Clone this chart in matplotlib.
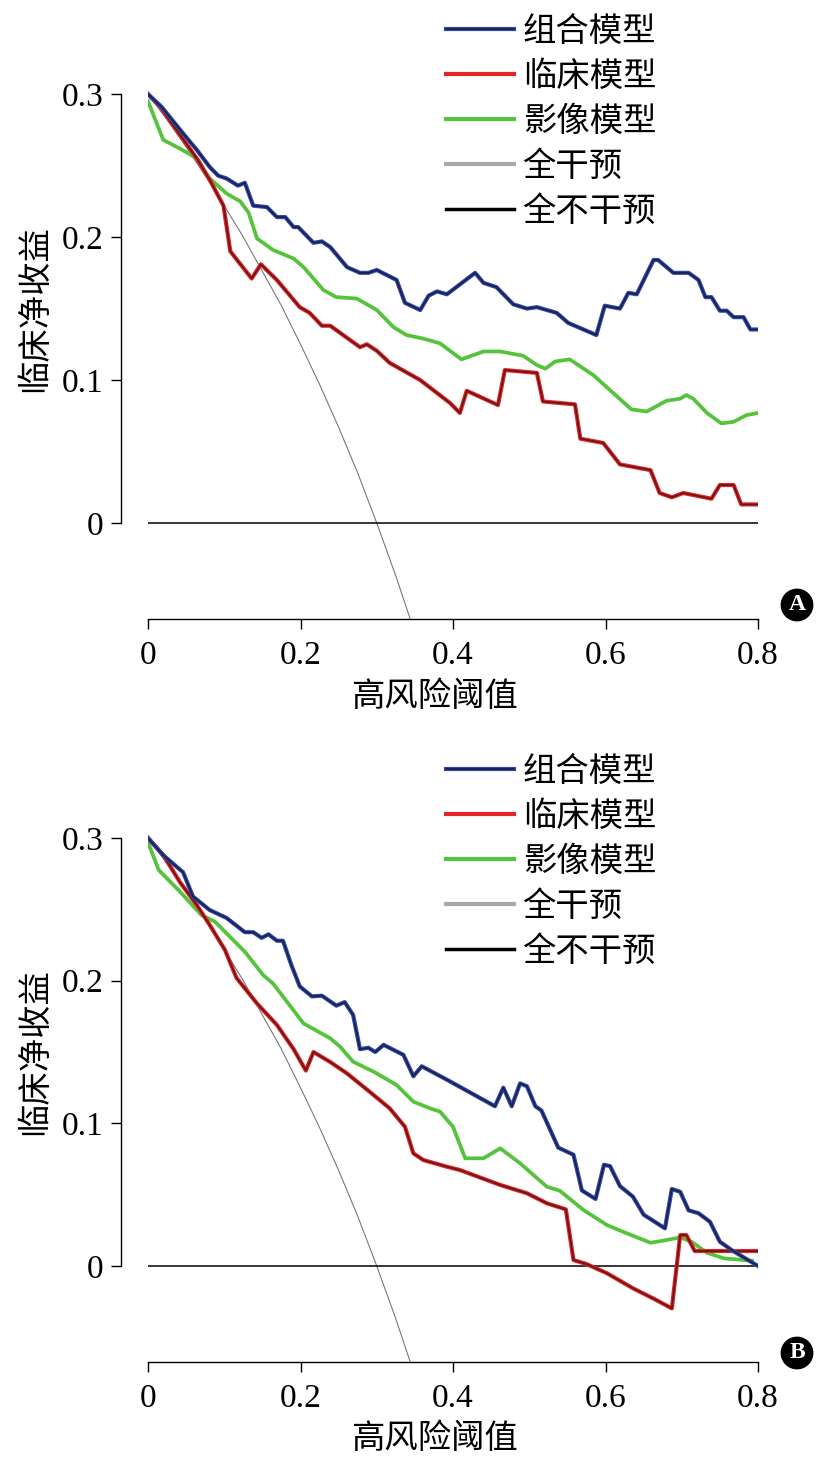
import matplotlib
matplotlib.use('Agg')
import matplotlib.pyplot as plt
import matplotlib.patheffects as pe
from matplotlib.lines import Line2D

plt.rcParams['font.family'] = ['Liberation Serif', 'Noto Sans CJK SC']

labels = ['组合模型', '临床模型', '影像模型', '全干预', '全不干预']
x_ticks = [0, 0.2, 0.4, 0.6, 0.8]
x_ticklabels = ['0', '0.2', '0.4', '0.6', '0.8']
y_ticks = [0, 0.1, 0.2, 0.3]
y_ticklabels = ['0', '0.1', '0.2', '0.3']

# treat-all curve, same in both panels
x_all = [0, 0.025, 0.05, 0.075, 0.10, 0.125, 0.15, 0.175, 0.20, 0.225, 0.25, 0.275, 0.30, 0.325, 0.35]
y_all = [0.300, 0.282, 0.263, 0.243, 0.222, 0.200, 0.176, 0.152, 0.125, 0.097, 0.067, 0.035, 0.0, -0.037, -0.077]

# panel A
xa_comb = [0, 0.018, 0.046, 0.064, 0.081, 0.092, 0.103, 0.118, 0.127, 0.138, 0.156, 0.169, 0.180, 0.191,
           0.197, 0.217, 0.228, 0.239, 0.261, 0.278, 0.289, 0.300, 0.326, 0.337, 0.357, 0.368, 0.379, 0.392,
           0.429, 0.440, 0.457, 0.479, 0.497, 0.510, 0.536, 0.551, 0.588, 0.599, 0.619, 0.630, 0.641, 0.663,
           0.669, 0.689, 0.709, 0.722, 0.731, 0.739, 0.750, 0.759, 0.768, 0.781, 0.790, 0.800]
ya_comb = [0.300, 0.291, 0.2725, 0.261, 0.249, 0.243, 0.241, 0.236, 0.238, 0.222, 0.221, 0.214, 0.214, 0.207,
           0.207, 0.196, 0.197, 0.193, 0.179, 0.175, 0.175, 0.177, 0.170, 0.154, 0.149, 0.159, 0.162, 0.160,
           0.175, 0.168, 0.165, 0.153, 0.150, 0.151, 0.147, 0.140, 0.1315, 0.152, 0.150, 0.161, 0.160, 0.184,
           0.184, 0.175, 0.175, 0.170, 0.158, 0.158, 0.1485, 0.1485, 0.144, 0.144, 0.1354, 0.1354]
xa_clin = [0, 0.016, 0.064, 0.081, 0.099, 0.108, 0.136, 0.148, 0.169, 0.199, 0.212, 0.228, 0.239, 0.278,
           0.287, 0.300, 0.317, 0.357, 0.396, 0.409, 0.418, 0.459, 0.468, 0.510, 0.518, 0.560, 0.567, 0.597,
           0.619, 0.659, 0.671, 0.687, 0.702, 0.739, 0.750, 0.768, 0.778, 0.800]
ya_clin = [0.300, 0.291, 0.255, 0.240, 0.222, 0.190, 0.171, 0.181, 0.170, 0.151, 0.147, 0.138, 0.138, 0.123,
           0.125, 0.1205, 0.112, 0.100, 0.084, 0.077, 0.0925, 0.0825, 0.107, 0.105, 0.085, 0.083, 0.059, 0.056,
           0.041, 0.037, 0.021, 0.018, 0.021, 0.017, 0.0266, 0.0266, 0.013, 0.013]
xa_img = [0.0, 0.020, 0.038, 0.055, 0.066, 0.079, 0.103, 0.121, 0.132, 0.143, 0.164, 0.191, 0.204, 0.230,
          0.247, 0.274, 0.300, 0.322, 0.339, 0.361, 0.383, 0.411, 0.427, 0.440, 0.462, 0.492, 0.510, 0.521,
          0.534, 0.553, 0.584, 0.610, 0.634, 0.654, 0.680, 0.698, 0.706, 0.715, 0.733, 0.752, 0.768, 0.785, 0.800]
ya_img = [0.295, 0.268, 0.263, 0.258, 0.254, 0.242, 0.2305, 0.225, 0.217, 0.199, 0.191, 0.185, 0.179, 0.163,
          0.158, 0.157, 0.149, 0.137, 0.1315, 0.129, 0.1257, 0.1145, 0.1175, 0.120, 0.120, 0.117, 0.1105, 0.108,
          0.113, 0.1145, 0.1035, 0.091, 0.0795, 0.078, 0.0855, 0.087, 0.0895, 0.087, 0.077, 0.0697, 0.0708, 0.0755, 0.077]

# panel B
xb_comb = [0, 0.020, 0.046, 0.059, 0.081, 0.103, 0.127, 0.138, 0.149, 0.158, 0.169, 0.177, 0.188, 0.199,
           0.215, 0.228, 0.247, 0.258, 0.269, 0.278, 0.289, 0.298, 0.309, 0.335, 0.348, 0.359, 0.394, 0.455,
           0.466, 0.477, 0.488, 0.497, 0.508, 0.516, 0.538, 0.558, 0.569, 0.587, 0.598, 0.606, 0.619, 0.636,
           0.650, 0.678, 0.687, 0.698, 0.709, 0.722, 0.737, 0.750, 0.766, 0.800]
yb_comb = [0.300, 0.288, 0.276, 0.259, 0.2495, 0.244, 0.234, 0.234, 0.230, 0.2325, 0.228, 0.228, 0.211, 0.196,
           0.189, 0.1895, 0.1825, 0.185, 0.176, 0.152, 0.153, 0.150, 0.155, 0.148, 0.133, 0.140, 0.130, 0.112,
           0.125, 0.112, 0.128, 0.126, 0.112, 0.109, 0.083, 0.078, 0.053, 0.047, 0.071, 0.070, 0.056, 0.0486,
           0.036, 0.0264, 0.054, 0.052, 0.039, 0.037, 0.031, 0.017, 0.011, 0.0]
xb_clin = [0, 0.020, 0.042, 0.064, 0.081, 0.101, 0.116, 0.143, 0.169, 0.191, 0.207, 0.217, 0.239, 0.261,
           0.291, 0.317, 0.337, 0.348, 0.361, 0.392, 0.409, 0.462, 0.497, 0.523, 0.548, 0.558, 0.575, 0.602,
           0.636, 0.665, 0.687, 0.698, 0.706, 0.717, 0.800]
yb_clin = [0.300, 0.288, 0.269, 0.253, 0.239, 0.2215, 0.202, 0.184, 0.169, 0.152, 0.137, 0.150, 0.143, 0.135,
           0.122, 0.1105, 0.0976, 0.079, 0.0743, 0.0696, 0.0673, 0.0568, 0.051, 0.044, 0.0397, 0.0042, 0.0014,
           -0.0051, -0.0156, -0.0234, -0.0297, 0.0217, 0.0217, 0.0105, 0.0105]
xb_img = [0, 0.014, 0.042, 0.070, 0.088, 0.127, 0.151, 0.164, 0.204, 0.239, 0.252, 0.269, 0.296, 0.326,
          0.348, 0.370, 0.383, 0.400, 0.416, 0.440, 0.462, 0.488, 0.523, 0.540, 0.571, 0.602, 0.623, 0.659,
          0.680, 0.698, 0.713, 0.733, 0.755, 0.792]
yb_img = [0.297, 0.2776, 0.2624, 0.246, 0.2413, 0.2203, 0.204, 0.198, 0.170, 0.1596, 0.1537, 0.1432, 0.1362,
          0.1269, 0.1152, 0.1105, 0.1082, 0.0976, 0.0755, 0.0755, 0.0825, 0.072, 0.0556, 0.0528, 0.0393, 0.0287,
          0.024, 0.0163, 0.0182, 0.0201, 0.017, 0.0093, 0.0054, 0.0037]

BLUE = '#3049b0'
BLUE_DARK = '#1c2147'
RED = '#e3262a'
RED_DARK = '#6a1616'
GREEN = '#55c43c'

W, H = 823, 1459
fig = plt.figure(figsize=(W / 100, H / 100), dpi=100)


def draw_panel(rect, comb, clin, img, letter, legend_top):
    ax = fig.add_axes(rect)
    ax.set_xlim(0, 0.8)
    ax.set_ylim(-0.067, 0.305)

    ax.plot(x_all, y_all, color='#707070', lw=0.75, zorder=2)
    ax.plot([0, 0.8], [0, 0], color='black', lw=1.1, zorder=2)
    ax.plot(img[0], img[1], color=GREEN, lw=2.7, solid_joinstyle='round', zorder=3)
    ax.plot(clin[0], clin[1], color=RED_DARK, lw=1.3, zorder=4,
            path_effects=[pe.Stroke(linewidth=3.0, foreground=RED), pe.Normal()])
    ax.plot(comb[0], comb[1], color=BLUE_DARK, lw=1.3, zorder=5,
            path_effects=[pe.Stroke(linewidth=3.0, foreground=BLUE), pe.Normal()])

    for s in ['top', 'right']:
        ax.spines[s].set_visible(False)
    ax.spines['left'].set_position(('outward', 19.5))
    ax.spines['left'].set_bounds(0, 0.3)
    ax.spines['bottom'].set_bounds(0, 0.8)
    ax.spines['left'].set_linewidth(1.0)
    ax.spines['bottom'].set_linewidth(1.0)

    ax.set_xticks(x_ticks)
    ax.set_xticklabels(x_ticklabels)
    ax.set_yticks(y_ticks)
    ax.set_yticklabels(y_ticklabels)
    ax.tick_params(axis='both', labelsize=24, length=7.5, width=1.0, direction='out')
    ax.tick_params(axis='x', pad=8)
    ax.tick_params(axis='y', pad=5)

    # labels placed as in the reference (y label centred on the 0-0.3 spine)
    x0, y0, w, h = rect
    ax.set_xlabel('高风险阈值', fontsize=24, va='center')
    ax.xaxis.set_label_coords((434 / W - x0) / w, -78 / (h * H))
    ax.set_ylabel('临床净收益', fontsize=24, va='center')
    ax.yaxis.set_label_coords((35 / W - x0) / w, (0.15 + 0.067) / 0.372)

    handles = [
        Line2D([], [], color=BLUE_DARK, lw=1.3,
               path_effects=[pe.Stroke(linewidth=3, foreground=BLUE), pe.Normal()]),
        Line2D([], [], color=RED, lw=3),
        Line2D([], [], color=GREEN, lw=3),
        Line2D([], [], color='#a8a8a8', lw=3),
        Line2D([], [], color='black', lw=2.5),
    ]
    fig.legend(handles, labels, loc='upper left', bbox_to_anchor=(446 / W, 1 - legend_top / H),
               frameon=False, fontsize=24, handlelength=2.05, handletextpad=0.25,
               labelspacing=0.40, borderpad=0, borderaxespad=0)

    fig.text(797 / W, 1 - letter[1] / H, letter[0], color='white', fontsize=17, fontweight='bold',
             ha='center', va='center',
             bbox=dict(boxstyle='circle,pad=0.22', fc='black', ec='black'))
    return ax


draw_panel([148 / W, 1 - 618.8 / H, 610 / W, 531.8 / H], (xa_comb, ya_comb), (xa_clin, ya_clin),
           (xa_img, ya_img), ('A', 605), 17)
draw_panel([148 / W, 1 - 1361.6 / H, 610 / W, 530.7 / H], (xb_comb, yb_comb), (xb_clin, yb_clin),
           (xb_img, yb_img), ('B', 1353), 757)

fig.savefig('out.png', dpi=100)
